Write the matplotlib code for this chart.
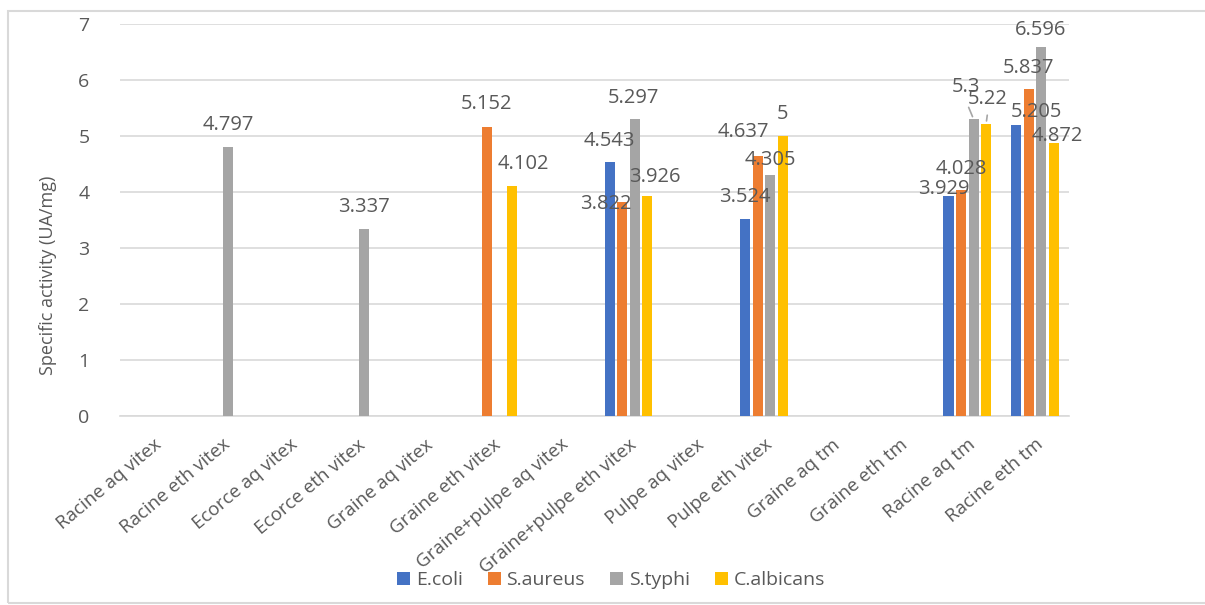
import numpy as np
import matplotlib
matplotlib.use("Agg")
import matplotlib.pyplot as plt
from matplotlib.patches import Rectangle

nan = np.nan

categories = ["Racine aq vitex", "Racine eth vitex", "Ecorce aq vitex", "Ecorce eth vitex",
              "Graine aq vitex", "Graine eth vitex", "Graine+pulpe aq vitex",
              "Graine+pulpe eth vitex", "Pulpe aq vitex", "Pulpe eth vitex",
              "Graine aq tm", "Graine eth tm", "Racine aq tm", "Racine eth tm"]

series_names = ["E.coli", "S.aureus", "S.typhi", "C.albicans"]
ecoli = [nan, nan, nan, nan, nan, nan, nan, 4.543, nan, 3.524, nan, nan, 3.929, 5.205]
saureus = [nan, nan, nan, nan, nan, 5.152, nan, 3.822, nan, 4.637, nan, nan, 4.028, 5.837]
styphi = [nan, 4.797, nan, 3.337, nan, nan, nan, 5.297, nan, 4.305, nan, nan, 5.3, 6.596]
calbicans = [nan, nan, nan, nan, nan, 4.102, nan, 3.926, nan, 5, nan, nan, 5.22, 4.872]

colors = ["#4472C4", "#ED7D31", "#A5A5A5", "#FFC000"]
text_color = "#595959"
grid_color = "#D9D9D9"

# label nudges in pixels (dx, dy) from the top centre of each bar
label_offsets = {
    (2, 1): (0, 22), (2, 3): (0, 22),
    (1, 5): (0, 23), (3, 5): (12, 22),
    (0, 7): (0, 21), (1, 7): (-16, -2), (2, 7): (-1, 21), (3, 7): (8, 19),
    (0, 9): (0, 22), (1, 9): (-14, 24), (2, 9): (0, 15), (3, 9): (0, 22),
    (0, 12): (-5, 7), (1, 12): (0, 21), (2, 12): (-8, 32), (3, 12): (2, 25),
    (0, 13): (20, 13), (1, 13): (0, 21), (2, 13): (-1, 17), (3, 13): (3, 7),
}
leader_lines = {(2, 12), (3, 12)}

plt.rcParams["font.family"] = ["Open Sans", "DejaVu Sans"]

fig = plt.figure(figsize=(12.05, 6.05), dpi=100)
ax = fig.add_axes([120 / 1205, 1 - 416 / 605, 949 / 1205, 392 / 605])

# chart frame
fig.patches.append(Rectangle((8 / 1205, 2 / 605), 1.2, 592 / 605, transform=fig.transFigure,
                             fill=False, edgecolor=grid_color, linewidth=1.5))

x = np.arange(len(categories))
step = 0.185
width = 0.148
all_series = [ecoli, saureus, styphi, calbicans]

for i, (name, vals, c) in enumerate(zip(series_names, all_series, colors)):
    vals = np.array(vals, dtype=float)
    xs = x + (i - 1.5) * step
    ax.bar(xs, np.nan_to_num(vals), width=width, color=c, label=name, zorder=3)
    for j, v in enumerate(vals):
        if np.isnan(v):
            continue
        dx, dy = label_offsets.get((i, j), (0, 22))
        ax.annotate(f"{v:g}", xy=(xs[j], v), xytext=(dx, dy), textcoords="offset pixels",
                    ha="center", va="center", fontsize=14.5, color=text_color, zorder=5)
        if (i, j) in leader_lines:
            ax.annotate("", xy=(xs[j], v), xytext=(dx * 0.75, dy * 0.45),
                        textcoords="offset pixels",
                        arrowprops=dict(arrowstyle="-", color="#A6A6A6", lw=1.2))

ax.set_xlim(-0.5, len(categories) - 0.5)
ax.set_ylim(0, 7)
ax.set_yticks(range(0, 8))
ax.yaxis.grid(True, color=grid_color, linewidth=1.2, zorder=0)
for s in ["top", "right", "left"]:
    ax.spines[s].set_visible(False)
ax.spines["bottom"].set_color(grid_color)
ax.spines["bottom"].set_linewidth(1.2)
ax.tick_params(axis="both", length=0, colors=text_color)
ax.tick_params(axis="y", labelsize=14, pad=22)

ax.set_xticks(x)
ax.set_xticklabels(categories, rotation=40, ha="right", rotation_mode="anchor",
                   fontsize=13.5, color=text_color)
ax.tick_params(axis="x", pad=14)

ax.set_ylabel("Specific activity (UA/mg)", fontsize=13, color=text_color)
ax.yaxis.set_label_coords(-0.066, 0.36)

fig.legend(loc="center", bbox_to_anchor=(611 / 1205, 1 - 580 / 605), ncol=4, frameon=False,
           fontsize=14, handlelength=0.65, handleheight=0.65, handletextpad=0.3,
           columnspacing=1.3, labelcolor=text_color)

fig.savefig("out.png", dpi=100)
